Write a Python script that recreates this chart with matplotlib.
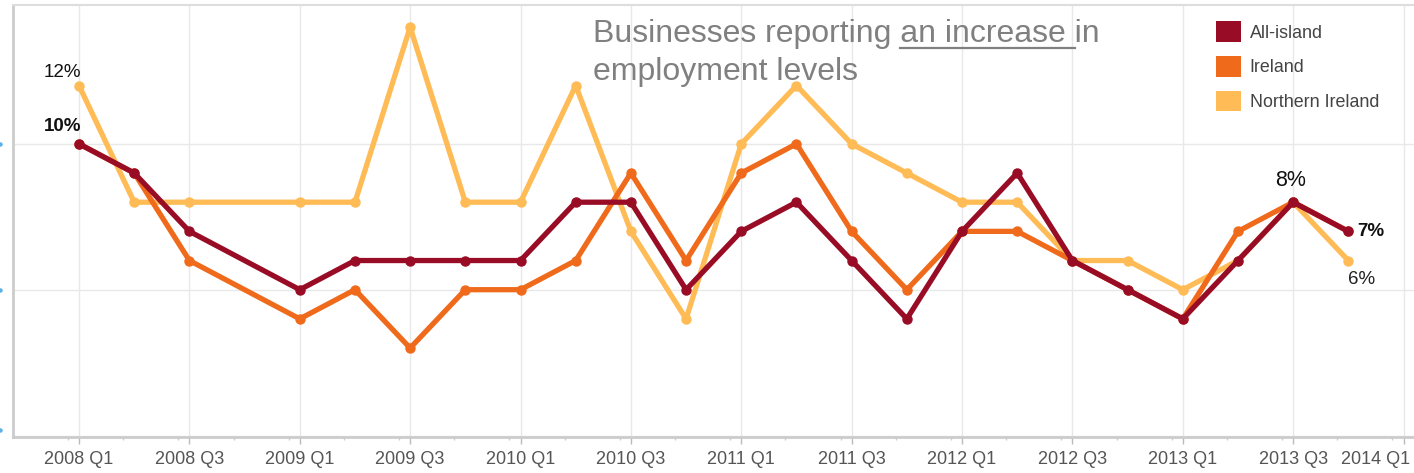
import matplotlib
matplotlib.use("Agg")
import matplotlib.pyplot as plt
from matplotlib.patches import Patch
from matplotlib.transforms import ScaledTranslation
from matplotlib.lines import Line2D

plt.rcParams['font.family'] = ['Liberation Sans', 'DejaVu Sans']

# Quarterly axis (2008 Q1 .. 2014 Q1)
axis_quarters = [f"{y} Q{q}" for y in range(2008, 2015) for q in range(1, 5)][:25]

# Survey quarters (no release for 2008 Q4)
quarters = ["2008 Q1", "2008 Q2", "2008 Q3",
            "2009 Q1", "2009 Q2", "2009 Q3", "2009 Q4",
            "2010 Q1", "2010 Q2", "2010 Q3", "2010 Q4",
            "2011 Q1", "2011 Q2", "2011 Q3", "2011 Q4",
            "2012 Q1", "2012 Q2", "2012 Q3", "2012 Q4",
            "2013 Q1", "2013 Q2", "2013 Q3", "2013 Q4"]

all_island = [10, 9, 7, 5, 6, 6, 6, 6, 8, 8, 5, 7, 8, 6, 4, 7, 9, 6, 5, 4, 6, 8, 7]
ireland = [10, 9, 6, 4, 5, 3, 5, 5, 6, 9, 6, 9, 10, 7, 5, 7, 7, 6, 5, 4, 7, 8, 7]
northern_ireland = [12, 8, 8, 8, 8, 14, 8, 8, 12, 7, 4, 10, 12, 10, 9, 8, 8, 6, 6, 5, 6, 8, 6]

series_names = ["All-island", "Ireland", "Northern Ireland"]
colors = ["#980c25", "#f06a1c", "#ffbb55"]

x = [axis_quarters.index(q) for q in quarters]

fig = plt.figure(figsize=(14.14, 4.73), dpi=100)
ax = fig.add_axes([0.0092, 0.0761, 0.9908, 0.9133])

for vals, col, z in zip([northern_ireland, ireland, all_island], colors[::-1], [2, 3, 4]):
    ax.plot(x, vals, color=col, lw=3.8, marker='o', ms=6.5,
            solid_joinstyle='round', solid_capstyle='round', zorder=z)

ax.set_xlim(-1.196, 24.19)
ax.set_ylim(-0.05, 14.76)

# Axis ticks and grid
major = list(range(0, 25, 2))
ax.set_xticks(major)
ax.set_xticklabels([axis_quarters[i] for i in major])
ax.set_xticks([i - 0.2 for i in range(0, 25)], minor=True)
ax.set_yticks([0, 5, 10])
ax.set_yticklabels([])
ax.tick_params(axis='x', which='major', length=5, width=1, color='#bbbbbb',
               labelsize=13, labelcolor='#555555', pad=5)
ax.tick_params(axis='x', which='minor', length=2.5, width=1, color='#cccccc')
ax.tick_params(axis='y', length=0)
ax.grid(True, which='major', color='#e8e8e8', lw=1, zorder=0)

# Shift the last tick label so it stays inside the figure
last = ax.get_xticklabels()[-1]
last.set_transform(last.get_transform() + ScaledTranslation(-28 / 100, 0, fig.dpi_scale_trans))

# Small markers at the y ticks
for yv in [0.2, 5, 10]:
    ax.plot([-0.009], [yv], marker='o', ms=2.2, color='#5ab0e8',
            transform=ax.get_yaxis_transform(), clip_on=False)

for side in ['left', 'bottom']:
    ax.spines[side].set_color('#cccccc')
    ax.spines[side].set_linewidth(2)
ax.spines['top'].set_color('#dddddd')
ax.spines['top'].set_linewidth(1.5)
ax.spines['right'].set_visible(False)

# Value labels
ax.text(-0.3, 12.45, "12%", ha='center', va='center', fontsize=13.5, color='#111111')
ax.text(-0.3, 10.6, "10%", ha='center', va='center', fontsize=13.5,
        fontweight='bold', color='#111111')
ax.text(21.95, 8.75, "8%", ha='center', va='center', fontsize=15.5, color='#111111')
ax.text(23.16, 7.0, "7%", ha='left', va='center', fontsize=13.5,
        fontweight='bold', color='#111111')
ax.text(23.0, 5.35, "6%", ha='left', va='center', fontsize=13.5, color='#222222')

# Heading with underlined phrase
title_color = '#808080'
tfs = 23
tx, ty1, ty2 = 0.4194, 0.911, 0.831
line1_pre = "Businesses reporting "
line1_ul = "an increase "
line1_post = "in"
fig.text(tx, ty1, line1_pre + line1_ul + line1_post, fontsize=tfs,
         color=title_color, va='baseline')
fig.text(tx, ty2, "employment levels", fontsize=tfs, color=title_color, va='baseline')

fig.canvas.draw()
renderer = fig.canvas.get_renderer()
tmp = fig.text(tx, ty1, line1_pre, fontsize=tfs, va='baseline')
w_pre = tmp.get_window_extent(renderer).width
tmp.set_text(line1_pre + line1_ul)
w_ul = tmp.get_window_extent(renderer).width
tmp.remove()
fw = fig.bbox.width
x0 = tx + w_pre / fw
x1 = tx + w_ul / fw
uy = ty1 - 6 / fig.bbox.height
fig.add_artist(Line2D([x0, x1], [uy, uy], color=title_color, lw=1.6,
                      transform=fig.transFigure))

# Legend
handles = [Patch(facecolor=c, edgecolor='none') for c in colors]
ax.legend(handles, series_names, loc='upper left', bbox_to_anchor=(0.8533, 0.979),
          frameon=False, fontsize=12.9, handlelength=1.4, handleheight=1.4,
          handletextpad=0.5, labelspacing=0.78, labelcolor='#444444',
          borderaxespad=0)

fig.savefig("out.png", dpi=100)
